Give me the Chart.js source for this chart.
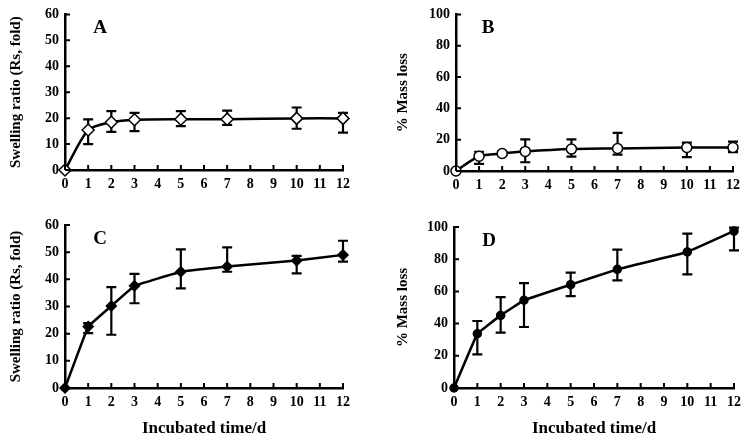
<!DOCTYPE html>
<html>
<head>
<meta charset="utf-8">
<script src="https://cdn.jsdelivr.net/npm/chart.js@4.4.1/dist/chart.umd.min.js"></script>
<style>
  html, body { margin: 0; padding: 0; background: #fff; }
  #wrap { position: relative; width: 750px; height: 443px; background: #fff; }
  canvas { position: absolute; }
</style>
</head>
<body>
<div id="wrap">
  <canvas id="cA" width="375" height="200" style="left:0;top:0"></canvas>
  <canvas id="cB" width="375" height="200" style="left:375px;top:0"></canvas>
  <canvas id="cC" width="375" height="243" style="left:0;top:200px"></canvas>
  <canvas id="cD" width="375" height="243" style="left:375px;top:200px"></canvas>
</div>
<script>
// ---- data ----
const days = [0, 1, 2, 3, 5, 7, 10, 12];
const xTicks = [0, 1, 2, 3, 4, 5, 6, 7, 8, 9, 10, 11, 12];

const swellA     = [0, 15.4, 18.4, 19.4, 19.6, 19.6, 19.9, 19.9];
const swellAUp   = [0, 4.1, 4.3, 2.6, 3.1, 3.3, 4.2, 2.1];
const swellADown = [0, 5.4, 3.7, 4.4, 2.7, 2.2, 4.0, 5.5];

const lossB     = [0, 9.4, 11.2, 12.5, 14.0, 14.4, 15.0, 15.0];
const lossBUp   = [0, 2.9, 1.0, 7.7, 6.2, 10.0, 3.1, 3.8];
const lossBDown = [0, 4.8, 1.0, 6.9, 4.8, 4.0, 6.2, 3.0];

const swellC     = [0, 22.6, 30.2, 37.6, 42.8, 44.7, 46.9, 49.0];
const swellCUp   = [0, 1.3, 6.9, 4.4, 8.2, 7.1, 1.7, 5.2];
const swellCDown = [0, 2.4, 10.6, 6.4, 6.1, 1.9, 4.7, 2.5];

const lossD     = [0, 33.7, 45.1, 54.5, 64.2, 73.7, 84.5, 97.5];
const lossDUp   = [0, 7.9, 11.4, 10.7, 7.4, 12.2, 11.4, 2.1];
const lossDDown = [0, 12.8, 10.7, 16.6, 7.1, 6.8, 13.9, 12.0];

const yTitleSwell = 'Swelling ratio (Rs, fold)';
const yTitleLoss = '% Mass loss';
const xTitle = 'Incubated time/d';

const FONT = "'Liberation Serif', 'Times New Roman', serif";

// error bars + inward ticks + panel letter
const decoPlugin = {
  id: 'deco',
  beforeDatasetsDraw(chart, args, opts) {
    const ctx = chart.ctx;
    const xs = chart.scales.x, ys = chart.scales.y;
    ctx.save();
    ctx.strokeStyle = '#000';
    ctx.lineWidth = 2.2;
    const cap = 5;
    opts.means.forEach((m, i) => {
      const up = opts.up[i], dn = opts.down[i];
      if (!up && !dn) return;
      const px = xs.getPixelForValue(days[i]);
      const yT = ys.getPixelForValue(m + up);
      const yB = ys.getPixelForValue(m - dn);
      ctx.beginPath();
      ctx.moveTo(px, yT); ctx.lineTo(px, yB);
      ctx.moveTo(px - cap, yT); ctx.lineTo(px + cap, yT);
      ctx.moveTo(px - cap, yB); ctx.lineTo(px + cap, yB);
      ctx.stroke();
    });
    ctx.restore();
  },
  afterDraw(chart, args, opts) {
    const ctx = chart.ctx;
    const xs = chart.scales.x, ys = chart.scales.y;
    const a = chart.chartArea;
    ctx.save();
    ctx.strokeStyle = '#000';
    ctx.lineWidth = 2;
    ctx.beginPath();
    xs.ticks.forEach((t, i) => {
      const px = xs.getPixelForTick(i);
      ctx.moveTo(px, a.bottom); ctx.lineTo(px, a.bottom - 5);
    });
    ys.ticks.forEach((t, i) => {
      const py = ys.getPixelForTick(i);
      ctx.moveTo(a.left, py); ctx.lineTo(a.left + 5, py);
    });
    ctx.stroke();
    ctx.fillStyle = '#000';
    ctx.font = "bold 19px " + FONT;
    ctx.textAlign = 'center';
    ctx.textBaseline = 'middle';
    ctx.fillText(opts.letter, a.left + opts.letterDx, a.top + opts.letterDy);
    ctx.restore();
  }
};

function makeChart(id, cfg) {
  const showXTitle = cfg.xTitle;
  return new Chart(document.getElementById(id), {
    type: 'line',
    data: {
      datasets: [{
        data: days.map((d, i) => ({ x: d, y: cfg.means[i] })),
        borderColor: '#000',
        borderWidth: 2.5,
        pointStyle: cfg.pointStyle,
        pointRadius: cfg.pointRadius,
        pointBackgroundColor: cfg.filled ? '#000' : '#fff',
        pointBorderColor: '#000',
        pointBorderWidth: 1.5,
        tension: cfg.tension,
        clip: false,
        fill: false
      }]
    },
    options: {
      responsive: false,
      animation: false,
      devicePixelRatio: 1,
      layout: { padding: { left: 0, right: cfg.padRight, top: cfg.padTop, bottom: 0 } },
      plugins: {
        legend: { display: false },
        tooltip: { enabled: false },
        deco: { means: cfg.means, up: cfg.up, down: cfg.down, letter: cfg.letter, letterDx: cfg.letterDx, letterDy: 14 }
      },
      scales: {
        x: {
          type: 'linear',
          min: 0, max: 12,
          afterBuildTicks: s => { s.ticks = xTicks.map(v => ({ value: v })); },
          afterFit: s => { s.height = cfg.xHeight; },
          grid: { display: true, drawOnChartArea: false, drawTicks: false },
          border: { display: true, color: '#000', width: 2.5 },
          ticks: { color: '#000', padding: 6, maxRotation: 0, autoSkip: false, font: { family: FONT, size: 14, weight: 'bold' } },
          title: {
            display: showXTitle, text: xTitle, color: '#000',
            font: { family: FONT, size: 17, weight: 'bold' }, padding: { top: 0, bottom: 4 }
          }
        },
        y: {
          min: 0, max: cfg.yMax,
          afterFit: s => { s.width = cfg.yWidth; },
          grid: { display: true, drawOnChartArea: false, drawTicks: false },
          border: { display: true, color: '#000', width: 2.5 },
          ticks: { color: '#000', padding: 6, stepSize: cfg.yStep, font: { family: FONT, size: 14, weight: 'bold' } },
          title: {
            display: true, text: cfg.yTitle, color: '#000',
            font: { family: FONT, size: 15, weight: 'bold' }, padding: { top: cfg.yTitlePad, bottom: 0 }
          }
        }
      }
    },
    plugins: [decoPlugin]
  });
}

makeChart('cA', { means: swellA, up: swellAUp, down: swellADown, letter: 'A', letterDx: 35, tension: 0.25,
  pointStyle: 'rectRot', pointRadius: 6, filled: false, yMax: 60, yStep: 10,
  yTitle: yTitleSwell, yTitlePad: 7, yWidth: 65, xHeight: 30, padRight: 32, padTop: 7, xTitle: false });

makeChart('cB', { means: lossB, up: lossBUp, down: lossBDown, letter: 'B', letterDx: 32, tension: 0.25,
  pointStyle: 'circle', pointRadius: 5, filled: false, yMax: 100, yStep: 20,
  yTitle: yTitleLoss, yTitlePad: 19, yWidth: 81, xHeight: 29, padRight: 17, padTop: 11, xTitle: false });

makeChart('cC', { means: swellC, up: swellCUp, down: swellCDown, letter: 'C', letterDx: 35, tension: 0.05,
  pointStyle: 'rectRot', pointRadius: 5, filled: true, yMax: 60, yStep: 10,
  yTitle: yTitleSwell, yTitlePad: 7, yWidth: 65, xHeight: 55, padRight: 32, padTop: 25, xTitle: true });

makeChart('cD', { means: lossD, up: lossDUp, down: lossDDown, letter: 'D', letterDx: 35, tension: 0.05,
  pointStyle: 'circle', pointRadius: 4, filled: true, yMax: 100, yStep: 20,
  yTitle: yTitleLoss, yTitlePad: 19, yWidth: 79, xHeight: 55, padRight: 16, padTop: 27, xTitle: true });
</script>
</body>
</html>
